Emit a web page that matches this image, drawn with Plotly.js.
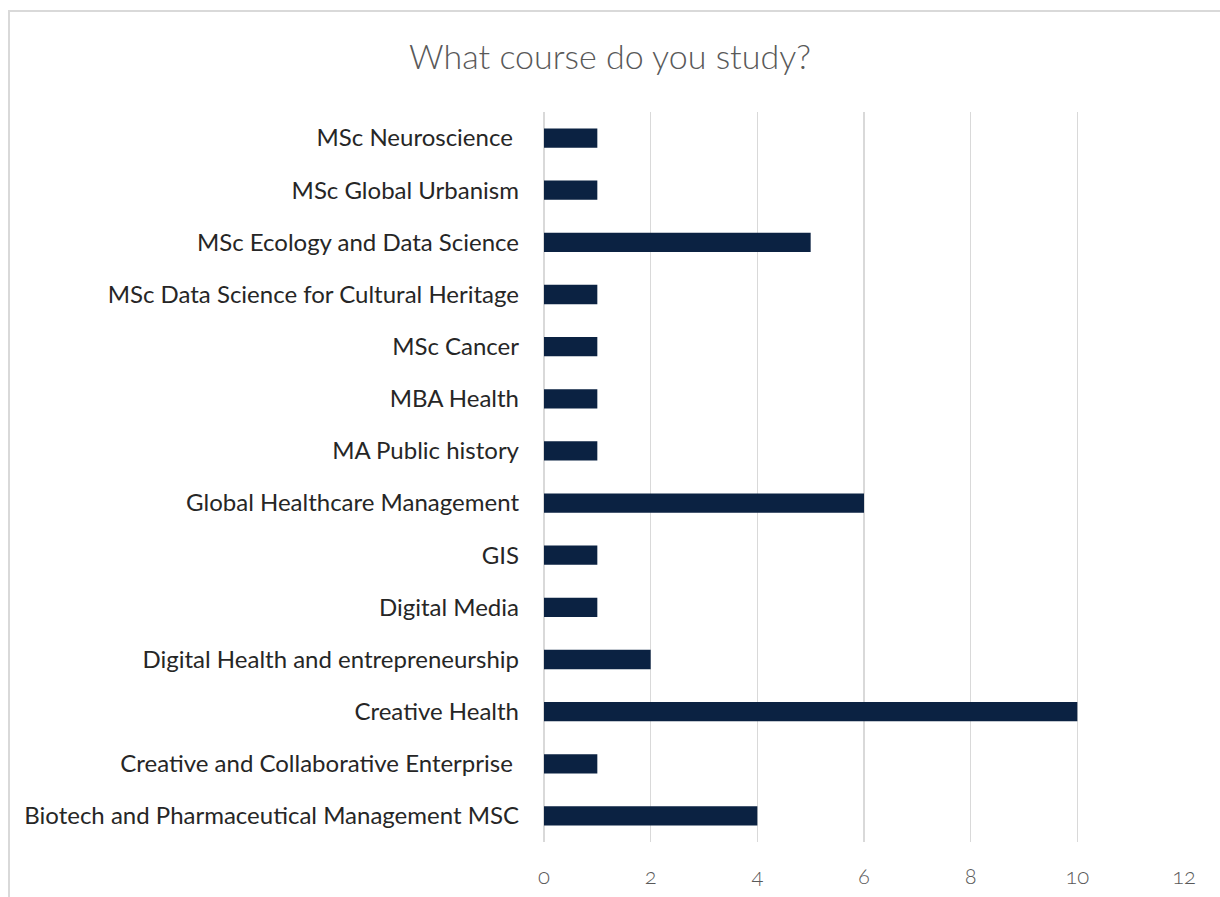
<!DOCTYPE html>
<html>
<head>
<meta charset="utf-8">
<script src="https://cdn.plot.ly/plotly-3.0.1.min.js"></script>
<style>
html,body{margin:0;padding:0;background:#fff;overflow:hidden;}
#frame{position:absolute;left:8px;top:10px;width:1300px;height:1000px;border:2px solid #d9d9d9;box-sizing:border-box;}
#chart{position:absolute;left:0;top:0;width:1220px;height:897px;}
.xtick text{font-feature-settings:"onum" 1;}
</style>
</head>
<body>
<div id="frame"></div>
<div id="chart"></div>
<script>
const categories = [
  "Biotech and Pharmaceutical Management MSC",
  "Creative and Collaborative Enterprise\u00a0",
  "Creative Health",
  "Digital Health and entrepreneurship",
  "Digital Media",
  "GIS",
  "Global Healthcare Management",
  "MA Public history",
  "MBA Health",
  "MSc Cancer",
  "MSc Data Science for Cultural Heritage",
  "MSc Ecology and Data Science",
  "MSc Global Urbanism",
  "MSc Neuroscience\u00a0"
];
const counts = [4, 1, 10, 2, 1, 1, 6, 1, 1, 1, 1, 5, 1, 1];
const xTicks = [0, 2, 4, 6, 8, 10, 12];

const trace = {
  type: 'bar',
  orientation: 'h',
  y: categories,
  x: counts,
  width: 0.37,
  marker: {color: '#0b2242'},
  hoverinfo: 'x+y'
};

const layout = {
  width: 1220,
  height: 897,
  paper_bgcolor: 'rgba(0,0,0,0)',
  plot_bgcolor: 'rgba(0,0,0,0)',
  margin: {l: 544, r: 36, t: 112, b: 55, pad: 0},
  showlegend: false,
  title: {
    text: 'What course do you study?',
    font: {family: 'Lato, sans-serif', size: 34, color: '#595959', weight: 300},
    x: 0.5, xanchor: 'center', y: 0.936, yanchor: 'middle'
  },
  xaxis: {
    range: [0, 12],
    tickvals: xTicks,
    ticktext: xTicks.map(String),
    showgrid: true,
    gridcolor: '#d9d9d9',
    gridwidth: 1.5,
    zeroline: true,
    zerolinecolor: '#d9d9d9',
    zerolinewidth: 1.5,
    showline: false,
    ticks: '',
    ticklabelstandoff: 19,
    tickfont: {family: 'Lato, sans-serif', size: 22, color: '#595959', weight: 300},
    fixedrange: true
  },
  yaxis: {
    type: 'category',
    categoryorder: 'array',
    categoryarray: categories,
    showgrid: false,
    zeroline: false,
    showline: false,
    ticks: '',
    ticklabelstandoff: 24,
    tickfont: {family: 'Lato, sans-serif', size: 24, color: '#262626'},
    automargin: false,
    fixedrange: true
  }
};

Plotly.newPlot('chart', [trace], layout, {displayModeBar: false, staticPlot: true});
</script>
</body>
</html>
